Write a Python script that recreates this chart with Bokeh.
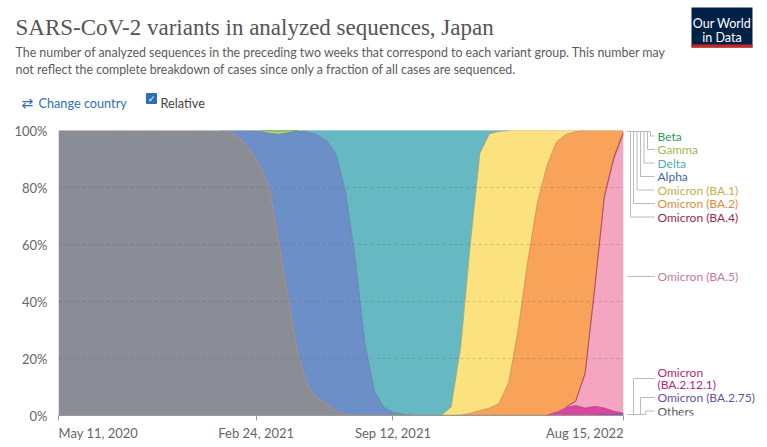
import numpy as np
import pandas as pd
from bokeh.plotting import figure
from bokeh.models import Range1d, FixedTicker
from bokeh.layouts import column, row
from bokeh.core.properties import value
from bokeh.embed import file_html
from bokeh.resources import INLINE
from bokeh.models import ColumnDataSource

# ---------------- data (share of analyzed sequences, %) ----------------
dates = [
    "2020-05-11", "2020-05-25", "2020-06-08", "2020-06-22", "2020-07-06", "2020-07-20",
    "2020-08-03", "2020-08-17", "2020-08-31", "2020-09-14", "2020-09-28", "2020-10-12",
    "2020-10-26", "2020-11-09", "2020-11-23", "2020-12-07", "2020-12-21",
    "2021-01-04", "2021-01-18", "2021-02-01", "2021-02-15", "2021-03-01", "2021-03-15",
    "2021-03-29", "2021-04-12", "2021-04-26", "2021-05-10", "2021-05-24", "2021-06-07",
    "2021-06-21", "2021-07-05", "2021-07-19", "2021-08-02", "2021-08-16", "2021-08-30",
    "2021-09-13", "2021-09-27", "2021-10-11", "2021-10-25", "2021-11-08", "2021-11-22",
    "2021-12-06", "2021-12-20",
    "2022-01-03", "2022-01-17", "2022-01-31", "2022-02-14", "2022-02-28", "2022-03-14",
    "2022-03-28", "2022-04-11", "2022-04-25", "2022-05-09", "2022-05-23", "2022-06-06",
    "2022-06-20", "2022-07-04", "2022-07-18", "2022-08-01", "2022-08-15",
]

others = [100, 100, 100, 100, 100, 100, 100, 100, 100, 100, 100, 100, 100, 100, 100, 100, 100,
          100, 99.5, 97, 93, 88, 80, 60.5, 40.5, 21.5, 10.5, 6, 4.2, 1.4, 0.3, 0.2, 0.2, 0.1, 0.1,
          0.1, 0.1, 0.1, 0.1, 0.1, 0.1, 0.1, 0.1,
          0.1, 0.1, 0.1, 0.1, 0.1, 0.1, 0.1, 0.1, 0.1, 0.1, 0.1, 0.1, 0.1, 0.1, 0.1, 0.1, 0.1]
alpha = [0, 0, 0, 0, 0, 0, 0, 0, 0, 0, 0, 0, 0, 0, 0, 0, 0,
         0, 0.5, 3, 7, 11.7, 19, 38.2, 58.7, 78.1, 89, 92.5, 92.3, 90.2, 77.7, 54.4, 24.9, 8.3, 2.7,
         0.9, 0.3, 0, 0, 0, 0, 0, 0,
         0, 0, 0, 0, 0, 0, 0, 0, 0, 0, 0, 0, 0, 0, 0, 0, 0]
delta = [0, 0, 0, 0, 0, 0, 0, 0, 0, 0, 0, 0, 0, 0, 0, 0, 0,
         0, 0, 0, 0, 0, 0, 0, 0, 0.2, 0.5, 1.5, 3.5, 8.4, 22, 45.4, 74.9, 91.6, 97.2,
         99, 99.6, 99.9, 99.9, 99.9, 99.9, 97, 76,
         40, 8, 1.2, 0.3, 0, 0, 0, 0, 0, 0, 0, 0, 0, 0, 0, 0, 0]
ba1 = [0, 0, 0, 0, 0, 0, 0, 0, 0, 0, 0, 0, 0, 0, 0, 0, 0,
       0, 0, 0, 0, 0, 0, 0, 0, 0, 0, 0, 0, 0, 0, 0, 0, 0, 0,
       0, 0, 0, 0, 0, 0, 2.9, 23.9,
       59.2, 90.3, 96.2, 95.5, 88.5, 70, 46, 25.5, 12.5, 4, 1.4, 0.4, 0, 0, 0, 0, 0]
ba2 = [0, 0, 0, 0, 0, 0, 0, 0, 0, 0, 0, 0, 0, 0, 0, 0, 0,
       0, 0, 0, 0, 0, 0, 0, 0, 0, 0, 0, 0, 0, 0, 0, 0, 0, 0,
       0, 0, 0, 0, 0, 0, 0, 0,
       0.7, 1.6, 2.5, 4.1, 11.4, 29.9, 53.9, 74.4, 87.4, 94.8, 95.6, 94.6, 85, 55, 23, 9.3, 0.5]
ba4 = [0] * 54 + [0.2, 0.6, 1.0, 1.0, 0.9, 0.7]
ba5 = [0] * 53 + [0.2, 1.3, 11.8, 40.8, 73.4, 88.3, 98.0]
ba2121 = [0] * 52 + [1.1, 2.7, 3.4, 2.5, 3.1, 2.4, 1.1, 0.2]
ba275 = [0] * 57 + [0.1, 0.3, 0.5]
gamma = [0] * 21 + [0.3, 0.8, 1.0, 0.6, 0.2] + [0] * 34
beta = [0] * 22 + [0.2, 0.3, 0.2] + [0] * 35

tick_dates = ["2020-05-11", "2021-02-24", "2021-09-12", "2022-08-15"]
tick_labels = ["May 11, 2020", "Feb 24, 2021", "Sep 12, 2021", "Aug 15, 2022"]
y_ticks = [0, 20, 40, 60, 80, 100]

# stacking order: bottom -> top
keys = ["others", "ba275", "ba2121", "ba5", "ba4", "ba2", "ba1", "alpha", "delta", "gamma", "beta"]
values = [others, ba275, ba2121, ba5, ba4, ba2, ba1, alpha, delta, gamma, beta]
fills = ["#8a8d95", "#8b6cc2", "#d9469e", "#f4a6c1", "#a8385a", "#f8a25a", "#fce27f",
         "#6d8fc7", "#66b8c2", "#b5dc5c", "#3aa76a"]
strokes = ["#b0876e", "#6c4ea3", "#b8307f", "#d88aa8", "#a33c4f", "#c98a4a", "#a9a56a",
           "#5a80ad", "#4c9aa5", "#8fb040", "#2a7f50"]

# legend (top -> bottom as shown)
leg_names = ["Beta", "Gamma", "Delta", "Alpha", "Omicron (BA.1)", "Omicron (BA.2)", "Omicron (BA.4)",
             "Omicron (BA.5)", "Omicron", "(BA.2.12.1)", "Omicron (BA.2.75)", "Others"]
leg_colors = ["#2f9a5c", "#a3b652", "#4fabb5", "#3f64a3", "#c4b04e", "#df8a40", "#962c50",
              "#c27a9f", "#b0287a", "#b0287a", "#6c4ea3", "#5a5a5a"]

# ---------------- build source ----------------
dt = pd.to_datetime(dates)
data = {"date": dt}
for k, v in zip(keys, values):
    data[k] = np.array(v, dtype=float)
src = ColumnDataSource(data)


def ms(s):
    return pd.Timestamp(s).value / 1e6


FONT = "Lato"

# ---------------- header ----------------
hd = figure(width=767, height=115, x_range=Range1d(0, 767), y_range=Range1d(115, 0),
            output_backend="svg", toolbar_location=None, min_border=0,
            x_axis_location=None, y_axis_location=None)
hd.grid.visible = False
hd.outline_line_color = None
hd.text(x=[15], y=[27], text=["SARS-CoV-2 variants in analyzed sequences, Japan"],
        text_font=value("Liberation Serif"), text_font_size="23px", text_color="#555555",
        text_baseline="alphabetic")
hd.text(x=[15, 15], y=[52, 69],
        text=["The number of analyzed sequences in the preceding two weeks that correspond to each variant group. This number may",
              "not reflect the complete breakdown of cases since only a fraction of all cases are sequenced."],
        text_font=value(FONT), text_font_size="12.4px", text_color="#5b5b5b", text_baseline="alphabetic")
hd.text(x=[21], y=[102], text=["\u21c4"], text_font=value("DejaVu Sans"), text_font_size="14px",
        text_color="#2f6fb5", text_baseline="alphabetic")
hd.text(x=[38], y=[102], text=["Change country"], text_font=value(FONT), text_font_size="12.7px",
        text_color="#2f6fb5", text_baseline="alphabetic")
hd.quad(left=[146], right=[156], top=[93], bottom=[103], fill_color="#2f6fb5", line_color="#2f6fb5")
hd.text(x=[151], y=[98.5], text=["\u2713"], text_font=value("DejaVu Sans"), text_font_size="9px",
        text_color="white", text_align="center", text_baseline="middle")
hd.text(x=[160], y=[102], text=["Relative"], text_font=value(FONT), text_font_size="12.7px",
        text_color="#444444", text_baseline="alphabetic")
# logo
hd.quad(left=[691], right=[752], top=[7], bottom=[47], fill_color="#002147", line_color=None)
hd.quad(left=[691], right=[752], top=[44], bottom=[47], fill_color="#ce261e", line_color=None)
hd.text(x=[721.5, 721.5], y=[23, 37], text=["Our World", "in Data"], text_font=value(FONT),
        text_font_size="12.5px", text_color="white", text_align="center", text_baseline="alphabetic")

# ---------------- main chart ----------------
p = figure(width=626, height=308, x_axis_type="datetime",
           x_range=Range1d(ms(dates[0]), ms(dates[-1])), y_range=Range1d(0, 100),
           output_backend="svg", toolbar_location=None,
           min_border_left=58, min_border_right=3, min_border_top=15, min_border_bottom=8)
p.outline_line_color = None
p.varea_stack(stackers=keys, x="date", color=fills, source=src)

cum = np.cumsum(np.array(values, dtype=float), axis=0)
for i, k in enumerate(keys):
    v = np.array(values[i], dtype=float)
    present = v > 0
    near = present.copy()
    near[1:] |= present[:-1]
    near[:-1] |= present[1:]
    y = np.where(near, cum[i], np.nan)
    p.line(x=dt, y=y, line_color=strokes[i], line_width=0.9, line_alpha=0.9)

p.xgrid.visible = False
p.ygrid.ticker = FixedTicker(ticks=[20, 40, 60, 80])
p.ygrid.grid_line_color = "#555555"
p.ygrid.grid_line_alpha = 0.25
p.ygrid.grid_line_dash = "3 3"
p.ygrid.level = "overlay"

p.yaxis.ticker = FixedTicker(ticks=y_ticks)
p.yaxis.major_label_overrides = {t: f"{t}%" for t in y_ticks}
p.yaxis.axis_line_color = None
p.yaxis.major_tick_line_color = None
p.yaxis.minor_tick_line_color = None
p.yaxis.major_label_standoff = 5
p.yaxis.major_label_text_font = FONT
p.yaxis.major_label_text_font_size = "13px"
p.yaxis.major_label_text_color = "#666666"

tick_ms = [ms(t) for t in tick_dates]
p.xaxis.ticker = FixedTicker(ticks=tick_ms)
p.xaxis.major_label_overrides = {t: "" for t in tick_ms}
p.xaxis.major_label_text_font_size = "0px"
p.xaxis.major_label_standoff = 0
p.xaxis.axis_line_color = "#999999"
p.xaxis.major_tick_line_color = "#999999"
p.xaxis.major_tick_in = 0
p.xaxis.major_tick_out = 5
p.xaxis.minor_tick_line_color = None

# ---------------- x tick labels strip (shares the chart's x scale) ----------------
ft = figure(width=767, height=24, x_range=p.x_range, y_range=Range1d(24, 0),
            output_backend="svg", toolbar_location=None,
            min_border_left=58, min_border_right=144, min_border_top=0, min_border_bottom=0,
            x_axis_location=None, y_axis_location=None)
ft.grid.visible = False
ft.outline_line_color = None
aligns = ["left", "center", "center", "right"]
for t, lab, al in zip(tick_ms, tick_labels, aligns):
    ft.text(x=[t], y=[9], text=[lab], text_align=al, text_baseline="middle",
            text_font=value(FONT), text_font_size="13px", text_color="#666666")

# ---------------- legend panel ----------------
lg = figure(width=141, height=308, x_range=Range1d(626, 767), y_range=Range1d(415, 130),
            output_backend="svg", toolbar_location=None,
            min_border_left=0, min_border_right=0, min_border_top=15, min_border_bottom=8,
            x_axis_location=None, y_axis_location=None)
lg.grid.visible = False
lg.outline_line_color = None
xs = [[627, 650, 650, 654], [627, 647, 647, 654], [627, 643.5, 643.5, 654], [627, 640, 640, 654],
      [627, 636.5, 636.5, 654], [627, 633, 633, 654], [627, 630, 630, 654],
      [627, 654],
      [627, 633, 633, 654], [627, 640, 640, 654], [627, 645, 645, 654]]
ys = [[131, 131, 135.5, 135.5], [131, 131, 149, 149], [131, 131, 162.5, 162.5], [131, 131, 176, 176],
      [131, 131, 189.5, 189.5], [131, 131, 203, 203], [131, 131, 216.5, 216.5],
      [276, 276],
      [414, 414, 378, 378], [414, 414, 397, 397], [414, 414, 410.5, 410.5]]
lg.multi_line(xs=xs, ys=ys, line_color="#bbbbbb", line_width=1)
leg_y = [135.5, 149, 162.5, 176, 189.5, 203, 216.5, 276, 371.5, 384, 397, 410.5]
lg.text(x=[657] * len(leg_names), y=leg_y, text=leg_names, text_color=leg_colors,
        text_font=value(FONT), text_font_size="12px", text_baseline="middle")

layout = column(hd, column(row(p, lg), ft))
open("out.html", "w").write(file_html(layout, INLINE))
